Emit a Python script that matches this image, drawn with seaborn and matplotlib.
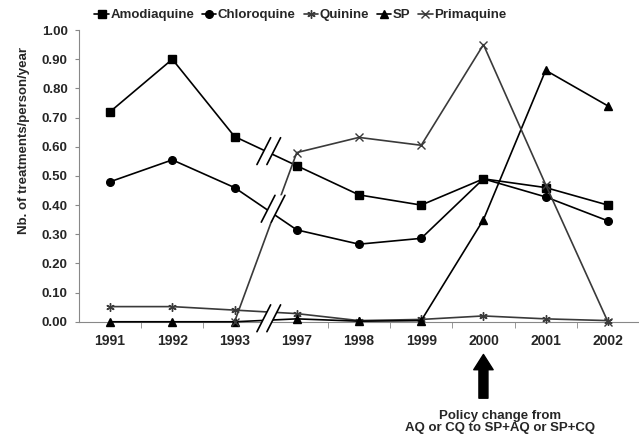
import matplotlib
matplotlib.use("Agg")
import matplotlib.pyplot as plt
from matplotlib.patches import Polygon
from matplotlib.ticker import FixedLocator
import numpy as np
import pandas as pd
import seaborn as sns

########### DATA ##################################
years = ["1991", "1992", "1993", "1997", "1998", "1999", "2000", "2001", "2002"]
amodiaquine = [0.72, 0.90, 0.635, 0.535, 0.435, 0.40, 0.49, 0.46, 0.40]
chloroquine = [0.48, 0.555, 0.46, 0.315, 0.266, 0.286, 0.49, 0.428, 0.346]
quinine = [0.052, 0.052, 0.04, 0.028, 0.004, 0.008, 0.02, 0.01, 0.004]
sp = [0.0, 0.0, 0.0, 0.01, 0.002, 0.004, 0.35, 0.862, 0.74]
primaquine = [np.nan, np.nan, 0.0, 0.58, 0.632, 0.605, 0.95, 0.47, 0.0]

series_names = ["Amodiaquine", "Chloroquine", "Quinine", "SP", "Primaquine"]
series_vals = [amodiaquine, chloroquine, quinine, sp, primaquine]
markers = ["s", "o", (6, 2, 0), "^", "x"]
colors = ["black", "black", "#3a3a3a", "black", "#3a3a3a"]
msizes = [5.5, 5.5, 6, 6, 5.5]

rows = []
for name, vals in zip(series_names, series_vals):
    for i, v in enumerate(vals):
        rows.append({"pos": i, "drug": name, "value": v})
df = pd.DataFrame(rows)

sns.set_style("ticks")
plt.rcParams['font.family'] = ['Liberation Sans', 'DejaVu Sans']
plt.rcParams['font.weight'] = 'bold'

fig = plt.figure(figsize=(6.39, 4.42), dpi=100)
ax = fig.add_axes([0.1236, 0.272, 0.8764, 0.660])

for name, mk, col, ms in zip(series_names, markers, colors, msizes):
    sub = df[df["drug"] == name].dropna()
    sns.lineplot(data=sub, x="pos", y="value", ax=ax, color=col, marker=mk,
                 markersize=ms, markeredgecolor=col, markerfacecolor=col,
                 markeredgewidth=1.0, linewidth=1.2, label=name, clip_on=False,
                 zorder=3)

ax.set_xlim(-0.5, 8.5)
ax.set_ylim(0, 1.0)
ax.set_yticks(np.arange(0, 1.01, 0.1))
ax.set_yticklabels([f"{v:.2f}" for v in np.arange(0, 1.01, 0.1)])
ax.set_xticks(range(len(years)))
ax.set_xticklabels(years)
ax.xaxis.set_minor_locator(FixedLocator(np.arange(0.5, 8.0, 1.0)))
ax.tick_params(axis='x', which='major', length=0, pad=9, labelsize=10)
ax.tick_params(axis='x', which='minor', length=4, direction='out', color='#888888')
ax.tick_params(axis='y', length=3, direction='out', color='#888888', pad=5, labelsize=9.5)
for lab in ax.get_xticklabels() + ax.get_yticklabels():
    lab.set_fontweight('bold')

sns.despine(ax=ax)
ax.spines['left'].set_color('#888888')
ax.spines['bottom'].set_color('#888888')

ax.set_xlabel("")
ax.set_ylabel("Nb. of treatments/person/year", fontsize=9.5, fontweight='bold')
ax.yaxis.set_label_coords(-0.088, 0.62)

# axis break marks between 1993 and 1997
breaks = [(2.55, (amodiaquine[2] + amodiaquine[3]) / 2),
          (2.62, (chloroquine[2] + chloroquine[3]) / 2),
          (2.55, 0.012)]
hw, hh, gap = 0.11, 0.046, 0.08
for cx, cy in breaks:
    poly = Polygon([(cx - gap - hw, cy - hh), (cx + gap - hw, cy - hh),
                    (cx + gap + hw, cy + hh), (cx - gap + hw, cy + hh)],
                   closed=True, facecolor='white', edgecolor='none',
                   zorder=5, clip_on=False)
    ax.add_patch(poly)
    for s in (-gap, gap):
        ax.plot([cx + s - hw, cx + s + hw], [cy - hh, cy + hh], color='black',
                linewidth=1.2, zorder=6, clip_on=False)

leg = ax.legend(loc='center', bbox_to_anchor=(0.47, 0.966), bbox_transform=fig.transFigure,
                ncol=5, frameon=False, handlelength=1.1, handletextpad=0.1,
                columnspacing=0.6, prop={'weight': 'bold', 'size': 9.5})

# policy change arrow and note
ax.annotate("", xy=(6, -0.112), xytext=(6, -0.262),
            xycoords=('data', 'axes fraction'), textcoords=('data', 'axes fraction'),
            arrowprops=dict(facecolor='black', edgecolor='black', width=6.5,
                            headwidth=14, headlength=11, shrink=0),
            annotation_clip=False)
ax.text(6.27, -0.342, "Policy change from\nAQ or CQ to SP+AQ or SP+CQ",
        transform=ax.get_xaxis_transform(), ha='center', va='center',
        fontsize=9.5, fontweight='bold', linespacing=1.0)

plt.savefig("out.png", dpi=100)
